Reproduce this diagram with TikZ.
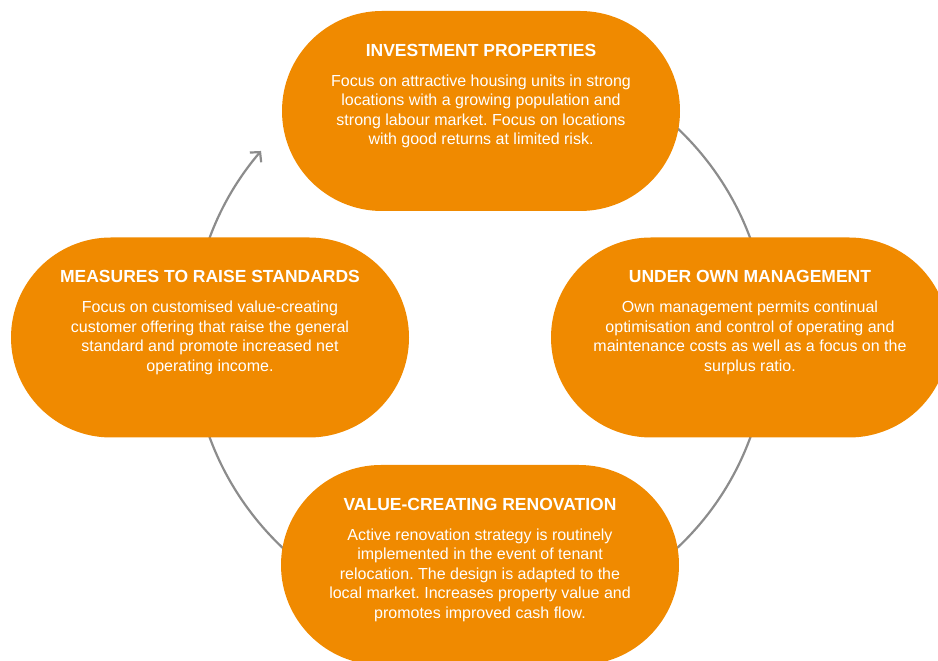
\documentclass[tikz,border=0pt]{standalone}
\usepackage{fontspec}
\setmainfont{Liberation Sans}
\usetikzlibrary{arrows.meta}
\definecolor{boxorange}{RGB}{240,138,0}
\definecolor{cyclegray}{RGB}{140,140,140}
\frenchspacing
\begin{document}
\begin{tikzpicture}[x=1pt,y=1pt,
  stage/.style={fill=boxorange, draw=none, minimum width=398pt, minimum height=200pt, rounded corners=100pt, inner sep=0pt},
  head/.style={anchor=base, text=white, font=\bfseries\fontsize{17.5}{20}\selectfont, inner sep=0pt},
  body/.style={anchor=north, text=white, align=center, font=\frenchspacing\fontsize{16}{19.5}\selectfont, inner sep=0pt},
  cyc/.style={draw=cyclegray, line width=2.2pt, -{Straight Barb[length=7pt,width=15pt]}}]
\useasboundingbox (0,0) rectangle (938,661);
\clip (0,0) rectangle (938,661);
\coordinate (c) at (480,323);
\draw[cyc] (c) ++(125:288) arc[start angle=125,end angle=-220.5,radius=288];

\node[stage] (inv) at (481,550) {};
\node[head] (invh) at ([yshift=-45.5pt]inv.north) {INVESTMENT PROPERTIES};
\node[body] (invt) at ([yshift=-59.5pt]inv.north) {\rule{0pt}{16pt}Focus on attractive housing units in strong\\locations with a growing population and\\strong labour market. Focus on locations\\with good returns at limited risk.};

\node[stage] (own) at (750,323.5) {};
\node[head] (ownh) at ([yshift=-45.5pt]own.north) {UNDER OWN MANAGEMENT};
\node[body] (ownt) at ([yshift=-59.5pt]own.north) {\rule{0pt}{16pt}Own management permits continual\\optimisation and control of operating and\\maintenance costs as well as a focus on the\\surplus ratio.};

\node[stage] (ren) at (480,96) {};
\node[head] (renh) at ([yshift=-45.5pt]ren.north) {VALUE-CREATING RENOVATION};
\node[body] (rent) at ([yshift=-59.5pt]ren.north) {\rule{0pt}{16pt}Active renovation strategy is routinely\\implemented in the event of tenant\\relocation. The design is adapted to the\\local market. Increases property value and\\promotes improved cash flow.};

\node[stage] (mea) at (210,323.5) {};
\node[head] (meah) at ([yshift=-45.5pt]mea.north) {MEASURES TO RAISE STANDARDS};
\node[body] (meat) at ([yshift=-59.5pt]mea.north) {\rule{0pt}{16pt}Focus on customised value-creating\\customer offering that raise the general\\standard and promote increased net\\operating income.};
\end{tikzpicture}
\end{document}
